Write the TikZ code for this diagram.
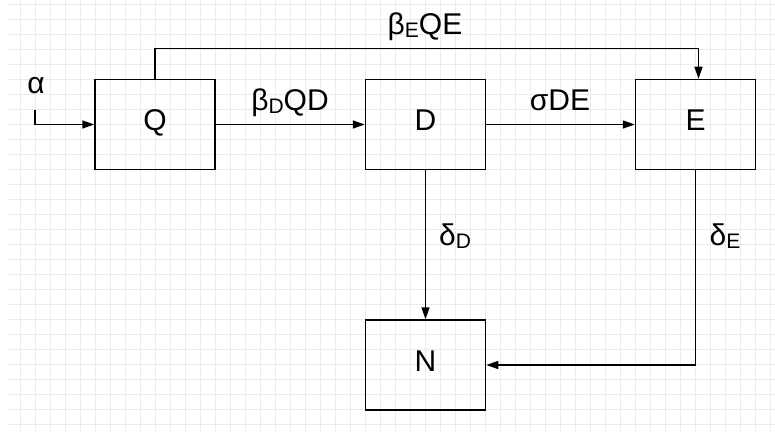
\documentclass[tikz,border=0pt]{standalone}
\usepackage{fontspec}
\setmainfont{Liberation Sans}
\usetikzlibrary{arrows.meta}

\newcommand{\lowsub}[1]{\raisebox{-3pt}{\fontsize{21}{21}\selectfont #1}}

\tikzset{
compart/.style={draw, line width=1.5pt, minimum width=120pt, minimum height=90pt,
  inner sep=0pt, text height=21.5pt, text depth=9.1pt, font=\fontsize{30}{30}\selectfont},
flow/.style={draw, line width=1.5pt, -{Triangle[length=12pt,width=8pt]}},
rate/.style={anchor=base, inner sep=0pt, font=\fontsize{30}{30}\selectfont},
gridline/.style={draw=black!8, line width=1pt}
}

\begin{document}
\begin{tikzpicture}[x=1pt,y=-1pt]

\useasboundingbox (0,0) rectangle (775,433);

% Grille
\foreach \x in {20.5,35.5,...,770.5}
{
\draw[gridline] (\x,0) -- (\x,433);
}
\foreach \y in {4.3,19.3,...,430}
{
\draw[gridline] (9,\y) -- (775,\y);
}

% Compartiments
\node[compart] (Q) at (155,124.5) {Q};
\node[compart] (D) at (425.5,124.5) {D};
\node[compart] (E) at (695.5,124.5) {E};
\node[compart] (N) at (425.5,365) {N};

% Entree
\node[rate] (alpha) at (36,93.3) {α};
\coordinate (in) at (35,110);
\draw[flow] (in) |- (Q.west);

% Flux
\draw[flow] (Q) -- (D);
\draw[flow] (D) -- (E);
\draw[flow] (Q.north) -- ++(0,-30.3) -| ([xshift=3pt]E.north);
\draw[flow] (D) -- (N);
\draw[flow] (E.south) |- (N.east);

% Taux
\node[rate] (betaE) at (425,34.7) {β\lowsub{E}QE};
\node[rate] (betaD) at (290,110.3) {β\lowsub{D}QD};
\node[rate] (sigma) at (560,110.3) {σDE};
\node[rate] (deltaD) at (455,245) {δ\lowsub{D}};
\node[rate] (deltaE) at (725,245) {δ\lowsub{E}};

\end{tikzpicture}
\end{document}
